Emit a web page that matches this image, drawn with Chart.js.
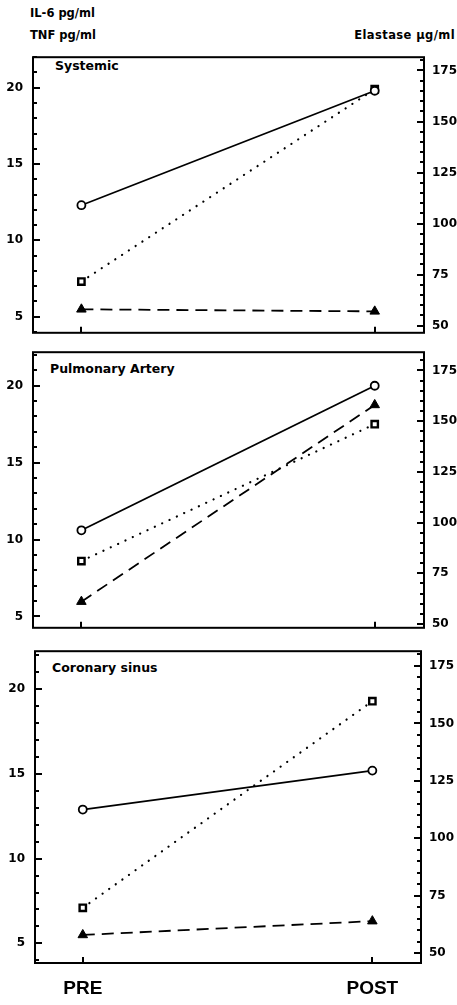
<!DOCTYPE html>
<html>
<head>
<meta charset="utf-8">
<script src="https://cdn.jsdelivr.net/npm/chart.js@4/dist/chart.umd.min.js"></script>
<style>
  body { margin: 0; background: #fff; }
  #wrap { position: relative; width: 457px; height: 1005px; overflow: hidden; }
  canvas { position: absolute; left: 0; }
  .lbl { position: absolute; font-family: "DejaVu Sans", sans-serif; font-weight: bold; color: #000; white-space: nowrap; }
  .hdr { font-size: 11.5px; }
  .ttl { font-size: 12.5px; }
</style>
</head>
<body>
<div id="wrap">
  <div class="lbl hdr" style="left:30px; top:6px;">IL-6 pg/ml</div>
  <div class="lbl hdr" style="left:30px; top:28px;">TNF pg/ml</div>
  <div class="lbl hdr" style="right:2px; top:28px; letter-spacing:0.4px;">Elastase µg/ml</div>
  <div class="lbl ttl" style="left:55px; top:58px;">Systemic</div>
  <div class="lbl ttl" style="left:50px; top:361px;">Pulmonary Artery</div>
  <div class="lbl ttl" style="left:52px; top:660px;">Coronary sinus</div>
  <canvas id="panel0" width="457" height="310" style="top:40px"></canvas>
  <canvas id="panel1" width="457" height="310" style="top:335px"></canvas>
  <canvas id="panel2" width="457" height="371" style="top:634px"></canvas>
</div>
<script>
// Values, one pair (PRE, POST) per panel.
const timepoints = ['PRE', 'POST'];
const panelTitles = ['Systemic', 'Pulmonary Artery', 'Coronary sinus'];
const il6 = [[12.3, 19.8], [10.6, 20.0], [12.9, 15.2]];      // circles, solid
const tnf = [[7.3, 19.9], [8.6, 17.5], [7.1, 19.3]];         // squares, dotted
const elastase = [[58, 57], [61, 158], [58, 64]];            // triangles, dashed, right axis
const leftTicks = [5, 10, 15, 20];
const rightTicks = [50, 75, 100, 125, 150, 175];
// axis ranges per panel (the scan is not perfectly regular)
const leftRange = [[3.94, 22.0], [4.26, 22.18], [3.84, 22.25]];
const rightRange = [[46.5, 181.5], [48.1, 184.0], [45.8, 181.4]];

// plot-area placement inside each canvas: padding top, left axis width,
// right axis width, bottom axis height
const boxes = [
  { top: 10, left: 33, right: 33, bottom: 11 },
  { top: 10, left: 33, right: 33, bottom: 12 },
  { top: 10, left: 35, right: 36, bottom: 42 }
];

const tickFont = { family: 'DejaVu Sans', size: 12, weight: 'bold' };

// frame plus the small inward tick marks of the old plot
const frameTicks = {
  id: 'frameTicks',
  afterDatasetsDraw(chart) {
    const { ctx, chartArea: a, scales } = chart;
    ctx.save();
    ctx.strokeStyle = '#000';
    ctx.lineWidth = 2;
    ctx.strokeRect(a.left, a.top, a.right - a.left, a.bottom - a.top);
    ctx.lineWidth = 2;
    ctx.beginPath();
    const y = scales.y;
    for (let v = Math.ceil(y.min); v <= y.max; v++) {
      const p = Math.round(y.getPixelForValue(v));
      ctx.moveTo(a.left, p);
      ctx.lineTo(a.left + (v % 5 === 0 ? 7 : 4), p);
    }
    const y1 = scales.y1;
    for (let v = Math.ceil(y1.min / 5) * 5; v <= y1.max; v += 5) {
      const p = Math.round(y1.getPixelForValue(v));
      ctx.moveTo(a.right + 1, p);
      ctx.lineTo(a.right - (v % 25 === 0 ? 7 : 4), p);
    }
    timepoints.forEach((t, j) => {
      const p = Math.round(scales.x.getPixelForValue(j));
      ctx.moveTo(p, a.bottom);
      ctx.lineTo(p, a.bottom - 6);
    });
    ctx.stroke();
    ctx.restore();
  }
};

function series(values, i) {
  return values[i].map((v, j) => ({ x: j, y: v }));
}

function makePanel(i) {
  const ctx = document.getElementById('panel' + i).getContext('2d');
  const box = boxes[i];
  const data = {
    datasets: [
      {
        label: 'IL-6',
        data: series(il6, i),
        yAxisID: 'y',
        borderColor: '#000',
        borderWidth: 1.8,
        pointStyle: 'circle',
        pointRadius: 4,
        pointBorderWidth: 1.8,
        pointBackgroundColor: '#fff',
        pointBorderColor: '#000'
      },
      {
        label: 'TNF',
        data: series(tnf, i),
        yAxisID: 'y',
        borderColor: '#000',
        borderWidth: 2.2,
        borderDash: [0.1, 8],
        borderCapStyle: 'round',
        pointStyle: 'rect',
        pointRadius: 4.5,
        pointBorderWidth: 2.4,
        pointBackgroundColor: '#fff',
        pointBorderColor: '#000'
      },
      {
        label: 'Elastase',
        data: series(elastase, i),
        yAxisID: 'y1',
        borderColor: '#000',
        borderWidth: 1.8,
        borderDash: [12, 7],
        pointStyle: 'triangle',
        pointRadius: 5.5,
        pointBorderWidth: 1,
        pointBackgroundColor: '#000',
        pointBorderColor: '#000'
      }
    ]
  };
  const options = {
    responsive: false,
    devicePixelRatio: 1,
    animation: false,
    layout: { padding: { top: box.top, left: 0, right: 0, bottom: 0 } },
    plugins: {
      legend: { display: false },
      title: { display: false },
      tooltip: { enabled: false }
    },
    scales: {
      x: {
        type: 'linear',
        min: -0.165,
        max: 1.168,
        afterBuildTicks: (s) => { s.ticks = timepoints.map((t, j) => ({ value: j })); },
        afterFit: (s) => { s.height = box.bottom; },
        ticks: {
          display: i === 2,
          callback: (v) => timepoints[v],
          color: '#000',
          padding: 14,
          font: { family: 'Liberation Sans', size: 19, weight: 'bold' }
        },
        grid: { display: false, drawTicks: false },
        border: { display: false }
      },
      y: {
        position: 'left',
        min: leftRange[i][0],
        max: leftRange[i][1],
        afterBuildTicks: (s) => { s.ticks = leftTicks.map((v) => ({ value: v })); },
        afterFit: (s) => { s.width = box.left; },
        ticks: { color: '#000', padding: 10, font: tickFont },
        grid: { display: false, drawTicks: false },
        border: { display: false }
      },
      y1: {
        position: 'right',
        min: rightRange[i][0],
        max: rightRange[i][1],
        afterBuildTicks: (s) => { s.ticks = rightTicks.map((v) => ({ value: v })); },
        afterFit: (s) => { s.width = box.right; },
        ticks: { color: '#000', padding: 8, font: tickFont },
        grid: { display: false, drawTicks: false },
        border: { display: false }
      }
    }
  };
  new Chart(ctx, { type: 'line', data, options, plugins: [frameTicks] });
}

document.addEventListener('DOMContentLoaded', () => {
  panelTitles.forEach((t, i) => makePanel(i));
});
</script>
</body>
</html>
